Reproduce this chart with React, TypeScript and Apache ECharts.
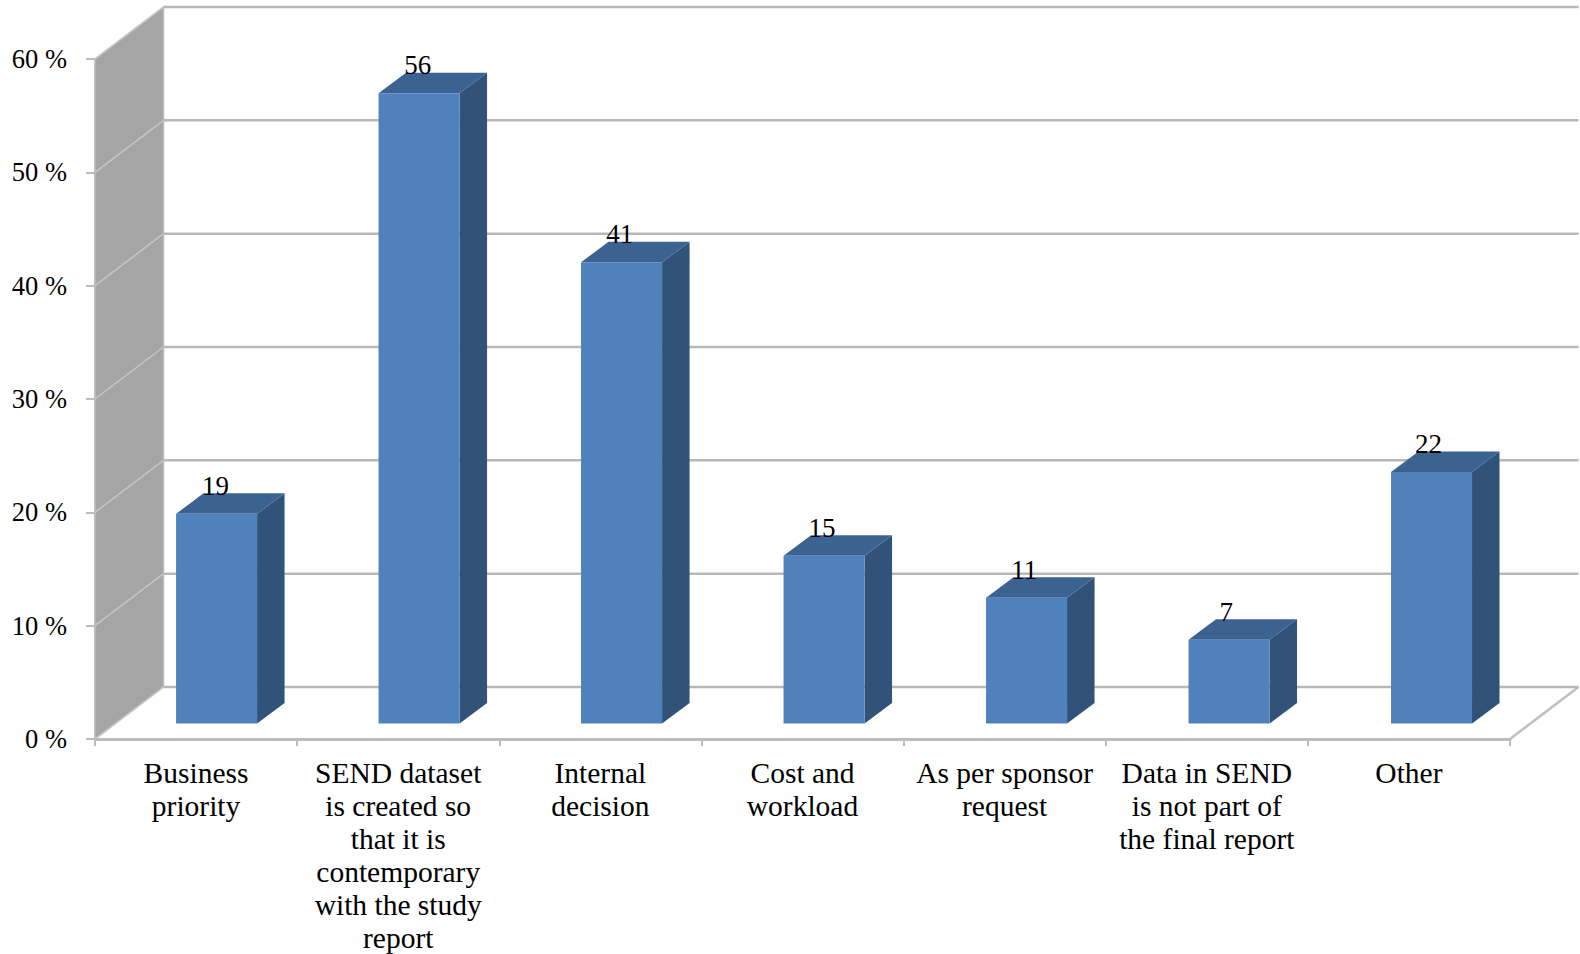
import React, { useEffect, useRef } from "react";
import * as echarts from "echarts";

const categories = [
  "Business\npriority",
  "SEND dataset\nis created so\nthat it is\ncontemporary\nwith the study\nreport",
  "Internal\ndecision",
  "Cost and\nworkload",
  "As per sponsor\nrequest",
  "Data in SEND\nis not part of\nthe final report",
  "Other",
];
const percentValues = [18.5, 55.6, 40.7, 14.8, 11.1, 7.4, 22.2];
const yTicks = [0, 10, 20, 30, 40, 50, 60];

const FONT = "'Liberation Serif', serif";
const FONT_SIZE = 27;
const CAT_FONT_SIZE = 29.5;
const WALL_DX = 68.5;
const WALL_DY = -52;
const BAR_W = 81;
const BAR_DX = 27.5;
const BAR_DY = -20.5;
const BAR_OFFSET_X = 20.5;
const BAR_SPREAD = 0.35;
const BAR_OFFSET_Y = -15.5;
const LABEL_OFFSET_X = 19.5;
const GRID_COLOR = "#b8b8b8";
const WALL_LINE = "#c6c6c6";

export default function App() {
  const ref = useRef<HTMLDivElement>(null);
  useEffect(() => {
    document.body.style.margin = "0";
    document.body.style.background = "#fff";
    const chart = echarts.init(ref.current!, undefined, { renderer: "svg" });

    const renderFrame = (params: any, api: any) => {
      const v = api.value(0);
      const cs = params.coordSys;
      const left = cs.x;
      const right = cs.x + cs.width;
      const y = api.coord([0, v])[1];
      const bx = left + WALL_DX;
      const by = y + WALL_DY;
      const children: any[] = [];
      if (v === 0) {
        const top = cs.y;
        children.push({
          type: "polygon",
          shape: { points: [[left, y], [left, top], [bx, top + WALL_DY], [bx, by]] },
          style: { fill: "#a5a5a5", stroke: "#bdbdbd", lineWidth: 1.5 },
        });
        children.push({
          type: "line",
          shape: { x1: right, y1: y, x2: right + WALL_DX, y2: by },
          style: { stroke: "#c0c0c0", lineWidth: 2.5 },
        });
      }
      children.push({
        type: "line",
        shape: { x1: left, y1: y, x2: bx, y2: by },
        style: { stroke: WALL_LINE, lineWidth: 1.5 },
      });
      children.push({
        type: "line",
        shape: { x1: bx, y1: by, x2: right + WALL_DX, y2: by },
        style: { stroke: GRID_COLOR, lineWidth: 2.5 },
      });
      return { type: "group", children };
    };

    const renderBar = (_params: any, api: any) => {
      const i = api.value(0);
      const val = api.value(1);
      const base = api.coord([i, 0]);
      const top = api.coord([i, val]);
      const cx = base[0] + BAR_OFFSET_X + i * BAR_SPREAD;
      const x0 = cx - BAR_W / 2;
      const x1 = cx + BAR_W / 2;
      const yb = base[1] + BAR_OFFSET_Y;
      const yt = top[1] + BAR_OFFSET_Y;
      return {
        type: "group",
        children: [
          {
            type: "polygon",
            shape: { points: [[x1, yb], [x1, yt], [x1 + BAR_DX, yt + BAR_DY], [x1 + BAR_DX, yb + BAR_DY]] },
            style: { fill: "#325379" },
          },
          {
            type: "polygon",
            shape: { points: [[x0, yt], [x1, yt], [x1 + BAR_DX, yt + BAR_DY], [x0 + BAR_DX, yt + BAR_DY]] },
            style: { fill: "#3c6291" },
          },
          {
            type: "rect",
            shape: { x: x0, y: yt, width: BAR_W, height: yb - yt },
            style: { fill: "#4f81bd" },
          },
          {
            type: "text",
            style: {
              x: base[0] + LABEL_OFFSET_X,
              y: yt - 28,
              text: String(Math.round(val)),
              align: "center",
              verticalAlign: "middle",
              fill: "#000",
              font: `${FONT_SIZE}px ${FONT}`,
            },
          },
        ],
      };
    };

    chart.setOption({
      animation: false,
      backgroundColor: "#fff",
      grid: { left: 95, right: 70, top: 59, bottom: 212.5, containLabel: false },
      xAxis: {
        type: "category",
        data: categories,
        boundaryGap: true,
        axisLine: { show: true, lineStyle: { color: "#bcbcbc", width: 3 } },
        axisTick: { show: true, length: 7, lineStyle: { color: "#bcbcbc", width: 2 } },
        splitLine: { show: false },
        axisLabel: {
          interval: 0,
          margin: 17,
          color: "#000",
          fontFamily: FONT,
          fontSize: CAT_FONT_SIZE,
          lineHeight: 33,
          align: "center",
          verticalAlign: "top",
        },
      },
      yAxis: {
        type: "value",
        min: 0,
        max: 60,
        interval: 10,
        axisLine: { show: true, lineStyle: { color: "#bcbcbc", width: 2.5 } },
        axisTick: { show: true, length: 9, lineStyle: { color: "#bcbcbc", width: 2 } },
        splitLine: { show: false },
        axisLabel: {
          margin: 28,
          color: "#000",
          fontFamily: FONT,
          fontSize: 26.5,
          formatter: "{value} %",
        },
      },
      series: [
        {
          type: "custom",
          renderItem: renderFrame,
          data: yTicks.map((t) => [t]),
          encode: { y: 0 },
          silent: true,
          clip: false,
          z: 1,
        },
        {
          type: "custom",
          renderItem: renderBar,
          data: percentValues.map((v, i) => [i, v]),
          encode: { x: 0, y: 1 },
          silent: true,
          clip: false,
          z: 3,
        },
      ],
    });
    return () => chart.dispose();
  }, []);
  return <div ref={ref} style={{ position: "absolute", left: 0, top: 0, width: 1580, height: 954 }} />;
}
